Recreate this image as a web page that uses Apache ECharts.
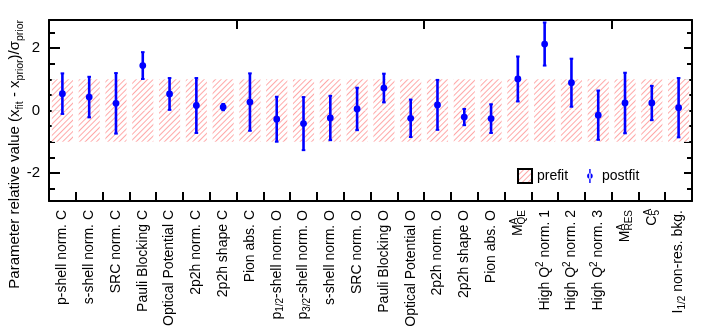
<!DOCTYPE html>
<html>
<head>
<meta charset="utf-8">
<script src="https://cdn.jsdelivr.net/npm/echarts@6/dist/echarts.min.js"></script>
<style>
  html, body { margin: 0; padding: 0; background: #fff; }
  #main { width: 706px; height: 335px; }
</style>
</head>
<body>
<div id="main"></div>
<script>
// category labels (rich markup for sub/superscripts)
var categories = [
  "p-shell norm. C", "s-shell norm. C", "SRC norm. C", "Pauli Blocking C",
  "Optical Potential C", "2p2h norm. C", "2p2h shape C", "Pion abs. C",
  "p{sub|1/2}-shell norm. O", "p{sub|3/2}-shell norm. O", "s-shell norm. O", "SRC norm. O",
  "Pauli Blocking O", "Optical Potential O", "2p2h norm. O", "2p2h shape O",
  "Pion abs. O", "{n|M}{supz|A}{subl|QE}", "High Q{sup|2} norm. 1", "High Q{sup|2} norm. 2",
  "High Q{sup|2} norm. 3", "{n|M}{supz|A}{subl|RES}", "{n|C}{supz|A}{subl|5}", "I{sub|1/2} non-res. bkg."
];
// postfit central values and errors
var postfit = [0.54, 0.43, 0.23, 1.44, 0.53, 0.16, 0.11, 0.27, -0.28, -0.42, -0.24, 0.05,
  0.72, -0.25, 0.18, -0.21, -0.26, 1.01, 2.13, 0.89, -0.15, 0.24, 0.24, 0.09];
var postfitErr = [0.65, 0.65, 0.97, 0.43, 0.51, 0.88, 0.10, 0.92, 0.72, 0.85, 0.71, 0.68,
  0.46, 0.60, 0.80, 0.26, 0.46, 0.72, 0.69, 0.77, 0.79, 0.97, 0.55, 0.95];
// prefit band (+/- 1 sigma prior)
var prefitErr = [1, 1, 1, 1, 1, 1, 1, 1, 1, 1, 1, 1, 1, 1, 1, 1, 1, 1, 1, 1, 1, 1, 1, 1];
// y ticks
var yLabels = [-2, 0, 2];
var yTicksRight = [-2, -1, 0, 1, 2];
var yMinorLeft = [-2.5, -1.5, -1, -0.5, 0.5, 1, 1.5, 2.5];
var yMinorRight = [-2.5, -1.5, -0.5, 0.5, 1.5, 2.5];

var FONT = "'Liberation Sans', Arial, sans-serif";

var myChart = echarts.init(document.getElementById("main"), null, { renderer: "canvas" });

// red hatch for the prefit band
var hatchStyle = {
  color: "#ffffff",
  decal: {
    symbol: "rect",
    symbolSize: 1,
    symbolKeepAspect: false,
    color: "rgba(255,110,110,0.6)",
    backgroundColor: "#ffffff",
    dashArrayX: [1, 0],
    dashArrayY: [1, 3],
    rotation: -Math.PI / 4
  }
};

var errData = postfit.map(function (v, i) {
  return [i, v, postfitErr[i]];
});

var richLabel = {
  sub: { fontSize: 10, fontFamily: FONT, verticalAlign: "bottom", lineHeight: 10 },
  sup: { fontSize: 10, fontFamily: FONT, verticalAlign: "top", lineHeight: 10 },
  n: { fontSize: 14, fontFamily: FONT, align: "left" },
  supz: { fontSize: 10, fontFamily: FONT, verticalAlign: "top", lineHeight: 10, width: 0, align: "left" },
  subl: { fontSize: 10, fontFamily: FONT, verticalAlign: "bottom", lineHeight: 10, align: "left" }
};

function yAxisBase(pos, ticks, len, lineShow, labels) {
  return {
    type: "value",
    position: pos,
    min: -2.9,
    max: 2.9,
    splitLine: { show: false },
    axisLine: { show: lineShow, onZero: false, lineStyle: { color: "#000", width: 2 } },
    axisTick: { show: true, inside: true, length: len, customValues: ticks, lineStyle: { color: "#000", width: 2 } },
    axisLabel: labels
      ? { show: true, customValues: labels, fontSize: 15, color: "#000", fontFamily: FONT, margin: 9 }
      : { show: false }
  };
}

var option = {
  animation: false,
  backgroundColor: "#fff",
  grid: { left: 49, right: 14, top: 20, bottom: 134, containLabel: false, outerBoundsMode: "none" },
  legend: {
    left: 517,
    top: 168,
    padding: 0,
    itemWidth: 14,
    itemHeight: 14,
    itemGap: 19,
    selectedMode: false,
    textStyle: { fontSize: 14, color: "#000", fontFamily: FONT },
    data: [
      { name: "prefit", icon: "rect", itemStyle: { borderColor: "#000", borderWidth: 2 } },
      { name: "postfit", icon: "path://M4,0H6V20H4Z M1,10A4,4 0 1,0 9,10A4,4 0 1,0 1,10Z", itemStyle: { color: "#0000ff" } }
    ]
  },
  graphic: [
    {
      type: "text",
      x: 15,
      y: 20,
      rotation: Math.PI / 2,
      style: {
        text: "Parameter relative value (x{sub|fit} - x{sub|prior})/σ{sub|prior}",
        fontSize: 15,
        fontFamily: FONT,
        fill: "#000",
        align: "right",
        verticalAlign: "middle",
        lineHeight: 21,
        rich: {
          sub: { fontSize: 10.5, fontFamily: FONT, verticalAlign: "bottom", lineHeight: 10 }
        }
      }
    }
  ],
  xAxis: [
    {
      type: "category",
      position: "bottom",
      data: categories,
      axisLine: { show: true, onZero: false, lineStyle: { color: "#000", width: 2 } },
      axisTick: { show: true, inside: true, length: 9, lineStyle: { color: "#000", width: 2 } },
      splitLine: { show: false },
      axisLabel: {
        rotate: 90,
        interval: 0,
        margin: 9,
        fontSize: 14,
        color: "#000",
        fontFamily: FONT,
        lineHeight: 18,
        rich: richLabel
      }
    },
    {
      type: "category",
      position: "top",
      data: categories,
      axisLine: { show: true, onZero: false, lineStyle: { color: "#000", width: 2 } },
      axisTick: { show: true, inside: true, length: 9, lineStyle: { color: "#000", width: 2 } },
      axisLabel: { show: false },
      splitLine: { show: false }
    }
  ],
  yAxis: [
    yAxisBase("left", yLabels, 11, true, yLabels),
    yAxisBase("left", yMinorLeft, 6, false, null),
    yAxisBase("right", yTicksRight, 8, true, null),
    yAxisBase("right", yMinorRight, 5, false, null)
  ],
  series: [
    {
      name: "prefit",
      type: "bar",
      stack: "prefit",
      barWidth: "79%",
      data: prefitErr,
      itemStyle: hatchStyle,
      silent: true
    },
    {
      name: "prefit",
      type: "bar",
      stack: "prefit",
      barWidth: "79%",
      data: prefitErr.map(function (e) { return -e; }),
      itemStyle: hatchStyle,
      silent: true
    },
    {
      name: "postfit",
      type: "custom",
      z: 10,
      itemStyle: { color: "#0000ff" },
      encode: { x: 0, y: 1 },
      data: errData,
      renderItem: function (params, api) {
        var i = api.value(0);
        var v = api.value(1);
        var e = api.value(2);
        var hi = api.coord([i, v + e]);
        var lo = api.coord([i, v - e]);
        var mid = api.coord([i, v]);
        var cap = 1.8;
        var st = { stroke: "#0000ff", lineWidth: 2.6 };
        return {
          type: "group",
          children: [
            { type: "line", shape: { x1: hi[0], y1: hi[1], x2: lo[0], y2: lo[1] }, style: st },
            { type: "line", shape: { x1: hi[0] - cap, y1: hi[1], x2: hi[0] + cap, y2: hi[1] }, style: { stroke: "#0000ff", lineWidth: 2 } },
            { type: "line", shape: { x1: lo[0] - cap, y1: lo[1], x2: lo[0] + cap, y2: lo[1] }, style: { stroke: "#0000ff", lineWidth: 2 } },
            { type: "circle", shape: { cx: mid[0], cy: mid[1], r: 3.4 }, style: { fill: "#0000ff" } }
          ]
        };
      }
    }
  ]
};

myChart.setOption(option);
window.addEventListener("resize", myChart.resize);
</script>
</body>
</html>
